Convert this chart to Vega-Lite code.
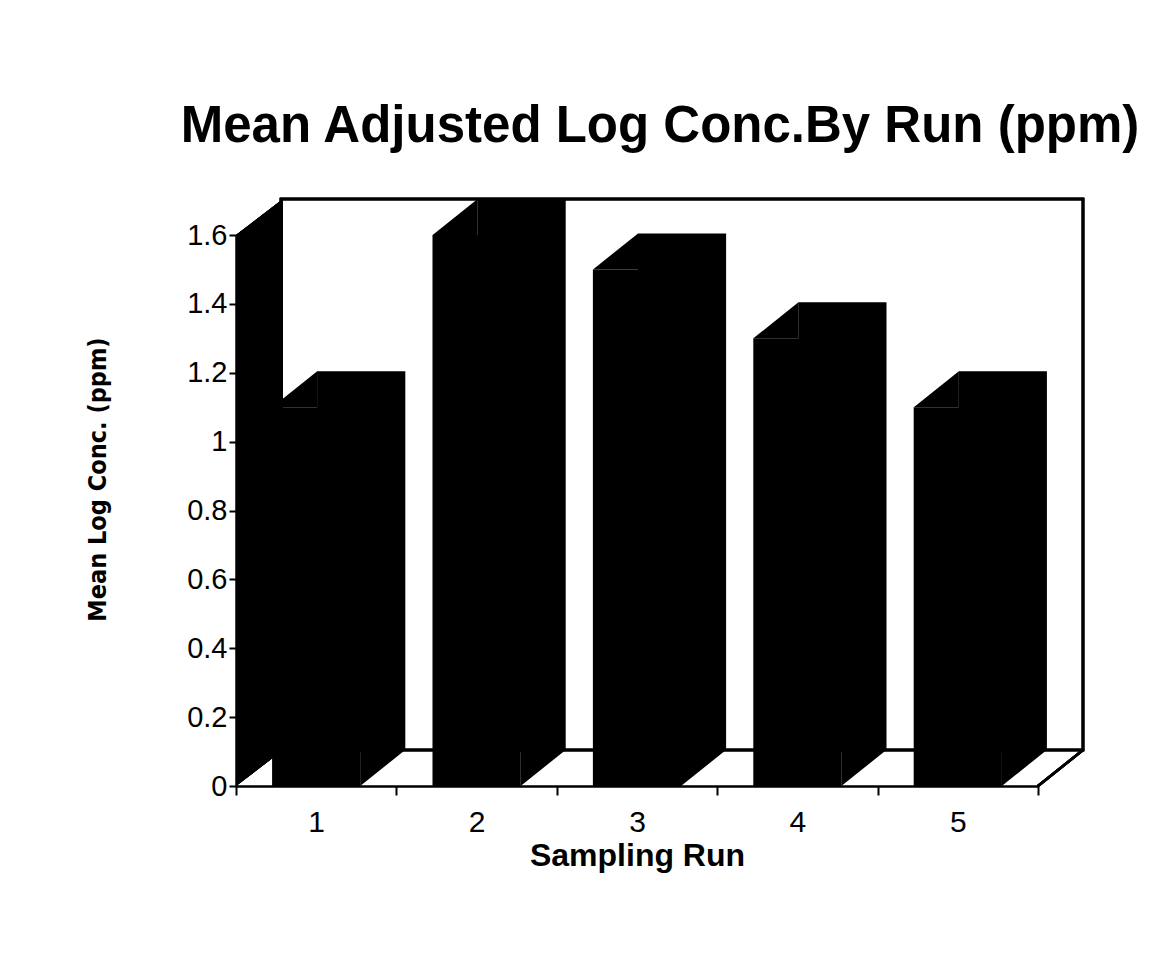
{
  "$schema": "https://vega.github.io/schema/vega-lite/v6.json",
  "width": 802,
  "height": 551,
  "autosize": {"type": "none"},
  "padding": {"left": 236, "top": 235, "right": 130, "bottom": 190},
  "background": "white",
  "config": {
    "view": {"stroke": null},
    "font": "Liberation Sans"
  },
  "title": {
    "text": "Mean Adjusted Log Conc.By Run (ppm)",
    "font": "Liberation Sans",
    "fontSize": 51,
    "fontWeight": "bold",
    "color": "black",
    "anchor": "middle",
    "frame": "group",
    "dx": 23,
    "offset": 45
  },
  "data": {
    "values": [
      {"run": "1", "conc": 1.1},
      {"run": "2", "conc": 1.6},
      {"run": "3", "conc": 1.5},
      {"run": "4", "conc": 1.3},
      {"run": "5", "conc": 1.1}
    ]
  },
  "encoding": {
    "x": {
      "field": "run",
      "type": "ordinal",
      "title": "Sampling Run",
      "scale": {"paddingInner": 0, "paddingOuter": 0},
      "axis": {
        "labelAngle": 0,
        "tickBand": "extent",
        "tickSize": 9,
        "tickWidth": 2,
        "tickColor": "black",
        "domainColor": "black",
        "domainWidth": 2.5,
        "labelFont": "Liberation Sans",
        "labelFontSize": 30,
        "labelColor": "black",
        "labelPadding": 12,
        "titleFont": "Liberation Sans",
        "titleFontSize": 32,
        "titleFontWeight": "bold",
        "titleColor": "black",
        "titlePadding": 3
      }
    },
    "y": {
      "field": "conc",
      "type": "quantitative",
      "title": "Mean Log Conc. (ppm)",
      "scale": {"domain": [0, 1.6], "nice": false},
      "axis": {
        "values": [0, 0.2, 0.4, 0.6, 0.8, 1, 1.2, 1.4, 1.6],
        "format": "~g",
        "grid": false,
        "tickSize": 7,
        "tickWidth": 2,
        "tickColor": "black",
        "domainColor": "black",
        "domainWidth": 2.5,
        "labelFont": "Liberation Sans",
        "labelFontSize": 29,
        "labelColor": "black",
        "labelPadding": 2,
        "titleFont": "DejaVu Sans Condensed",
        "titleFontSize": 25,
        "titleFontWeight": "bold",
        "titleColor": "black",
        "titlePadding": 76,
        "titleY": 244
      }
    }
  },
  "layer": [
    {
      "mark": {"type": "rect", "fill": null, "stroke": "black", "strokeWidth": 2.5, "xOffset": 45, "x2Offset": 45, "yOffset": -36, "y2Offset": -36},
      "encoding": {
        "x": {"value": 0},
        "x2": {"value": "width"},
        "y": {"datum": 1.6, "type": "quantitative"},
        "y2": {"datum": 0}
      }
    },
    {
      "mark": {"type": "rule", "stroke": "black", "strokeWidth": 2.5, "x2Offset": 45, "y2Offset": -36},
      "encoding": {
        "x": {"value": "width"},
        "x2": {"value": "width"},
        "y": {"datum": 0, "type": "quantitative"},
        "y2": {"datum": 0}
      }
    },
    {
      "mark": {"type": "point", "shape": "M0,0 L0,-551 L47,-587 L47,-36 Z", "size": 4, "filled": true, "fill": "black", "strokeWidth": 0, "opacity": 1},
      "encoding": {
        "x": {"value": 0},
        "y": {"datum": 0, "type": "quantitative"}
      }
    },
    {
      "mark": {"type": "bar", "width": {"band": 0.55}, "fill": "black", "stroke": null},
      "encoding": {}
    },
    {
      "mark": {"type": "bar", "width": {"band": 0.55}, "fill": "black", "stroke": null, "xOffset": 45, "yOffset": -36, "y2Offset": -36},
      "encoding": {}
    },
    {
      "mark": {"type": "point", "shape": "M0,0 L45,-36 L45,0 Z", "size": 4, "filled": true, "fill": "black", "strokeWidth": 0, "opacity": 1, "xOffset": -44},
      "encoding": {}
    },
    {
      "mark": {"type": "point", "shape": "M0,0 L0,-36 L45,-36 Z", "size": 4, "filled": true, "fill": "black", "strokeWidth": 0, "opacity": 1, "xOffset": 44},
      "encoding": {
        "y": {"datum": 0, "type": "quantitative"}
      }
    }
  ]
}
